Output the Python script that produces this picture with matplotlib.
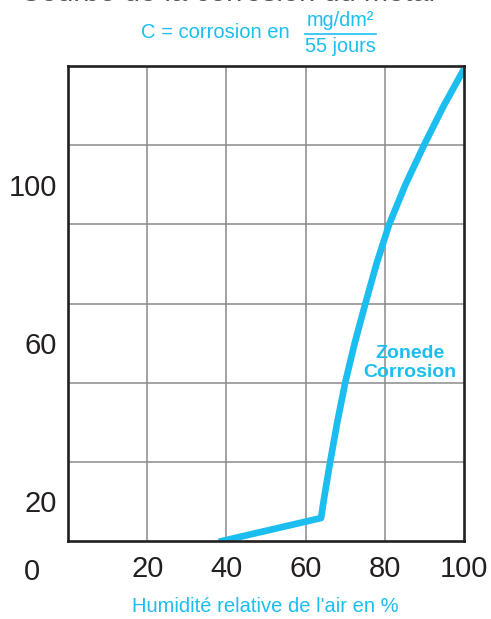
import matplotlib
matplotlib.use('Agg')
import matplotlib.pyplot as plt
from matplotlib.lines import Line2D

plt.rcParams['font.family'] = ['Liberation Sans', 'DejaVu Sans']

# Corrosion curve (humidity %, corrosion value)
humidity = [38.9, 63.9, 64.6, 66.2, 68.0, 70.0, 72.4, 75.1, 77.9, 81.1,
            85.2, 89.9, 94.9, 99.6]
corrosion = [10.0, 15.8, 20.4, 30.0, 40.0, 50.0, 60.0, 70.0, 80.0, 90.0,
             100.0, 110.0, 120.0, 128.5]

x_ticks = [20, 40, 60, 80, 100]
y_ticks = [20, 60, 100]
y_grid = [30, 50, 70, 90, 110]

blue = '#1cbdef'
dark = '#231f20'

fig = plt.figure(figsize=(4.91, 6.19), dpi=100)
ax = fig.add_axes([68/491, 1-541/619, 396/491, 475/619])

for x in x_ticks[:-1]:
    ax.axvline(x, color='#8a8a8a', lw=1.1, zorder=1)
for y in y_grid:
    ax.axhline(y, color='#8a8a8a', lw=1.1, zorder=1)

ax.plot(humidity, corrosion, color=blue, lw=4.8, solid_joinstyle='round', zorder=3)

ax.set_xlim(0, 100)
ax.set_ylim(10, 130)
ax.set_xticks(x_ticks)
ax.set_yticks(y_ticks)
ax.tick_params(length=0, labelsize=21, colors=dark, pad=8)
ax.tick_params(axis='x', pad=10)
for s in ax.spines.values():
    s.set_linewidth(1.9)
    s.set_color(dark)
    s.set_zorder(4)

# corner "0" label
fig.text(32/491, 1-572/619, '0', fontsize=21, color=dark, ha='center', va='center')

# cut-off title at the very top
fig.text(228/491, 1-1.2/619, 'Courbe de la corrosion du métal', fontsize=21,
         color='#555555', ha='center', va='baseline')

# unit annotation
fig.text(290/491, 1-32/619, 'C = corrosion en', fontsize=14.5, color=blue,
         ha='right', va='center')
fig.text(340/491, 1-21/619, 'mg/dm²', fontsize=14.3, color=blue, ha='center', va='center')
fig.text(340/491, 1-46/619, '55 jours', fontsize=14.3, color=blue, ha='center', va='center')
fig.add_artist(Line2D([305/491, 376/491], [1-34/619, 1-34/619], color=blue, lw=1.2))

ax.text(86.3, 55, 'Zonede\nCorrosion', fontsize=14, fontweight='bold', color=blue,
        ha='center', va='center', linespacing=1.15, zorder=5)

fig.text(265/491, 1-607/619, "Humidité relative de l'air en %", fontsize=14.5,
         color=blue, ha='center', va='center')

fig.savefig('out.png', dpi=100)
